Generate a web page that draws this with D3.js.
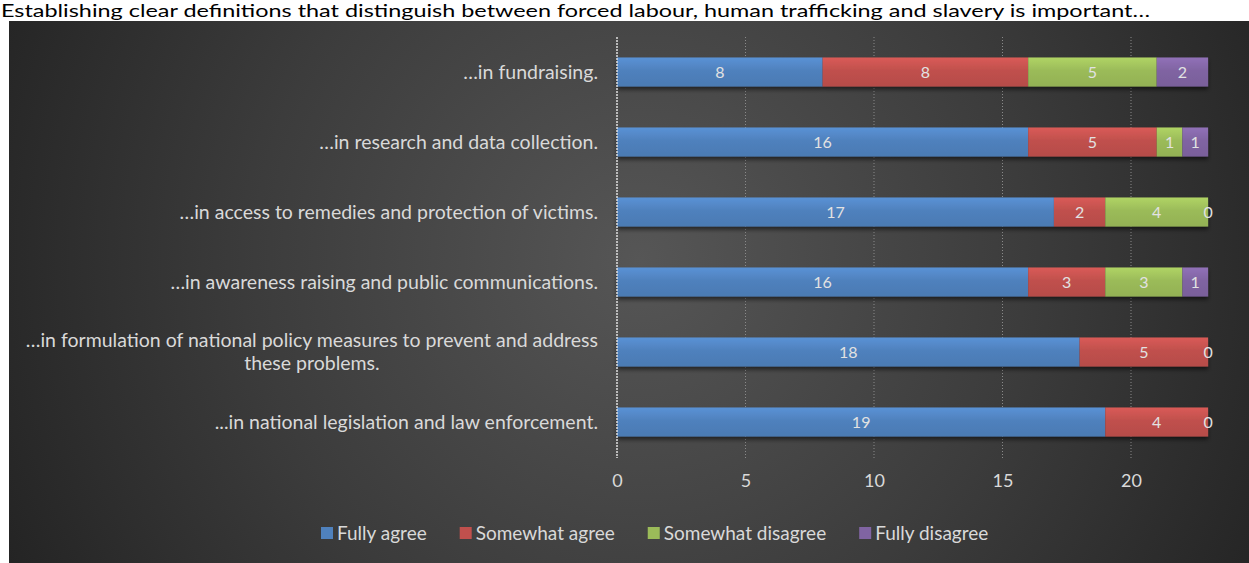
<!DOCTYPE html>
<html>
<head>
<meta charset="utf-8">
<script src="https://cdn.jsdelivr.net/npm/d3@7"></script>
<style>
  body { margin: 0; background: #fff; }
  svg { display: block; }
  text { font-family: Lato, "Open Sans", sans-serif; }
</style>
</head>
<body>
<div id="chart"></div>
<script>
// data
const categories = [
    "\u2026in fundraising.",
    "\u2026in research and data collection.",
    "\u2026in access to remedies and protection of victims.",
    "\u2026in awareness raising and public communications.",
    "\u2026in formulation of national policy measures to prevent and address|these problems.",
    "...in national legislation and law enforcement."
];
const seriesNames = ["Fully agree", "Somewhat agree", "Somewhat disagree", "Fully disagree"];
const fullyAgree = [8, 16, 17, 16, 18, 19];
const somewhatAgree = [8, 5, 2, 3, 5, 4];
const somewhatDisagree = [5, 1, 4, 3, 0, 0];
const fullyDisagree = [2, 1, 0, 1, 0, 0];
const xTicks = [0, 5, 10, 15, 20];
const colors = ["#4f81bd", "#c0504d", "#9bbb59", "#8064a2"];
const titleText = "Establishing clear definitions that distinguish between forced labour, human trafficking and slavery is important\u2026";

const W = 1249, H = 563;
const margin = {top: 37, left: 617, right: 41, bottom: 106};

let svg = d3.select("#chart").append("svg")
    .attr("width", W)
    .attr("height", H);

let defs = svg.append("defs");

// background gradient
let bg = defs.append("radialGradient")
    .attr("id", "bgGrad")
    .attr("gradientUnits", "userSpaceOnUse")
    .attr("cx", 640).attr("cy", 260).attr("r", 700);
bg.append("stop").attr("offset", "0%").attr("stop-color", "#565656");
bg.append("stop").attr("offset", "55%").attr("stop-color", "#3c3c3c");
bg.append("stop").attr("offset", "100%").attr("stop-color", "#242424");

colors.forEach((c, i) => {
    let g = defs.append("linearGradient")
        .attr("id", "barGrad" + i)
        .attr("x1", 0).attr("y1", 0).attr("x2", 0).attr("y2", 1);
    g.append("stop").attr("offset", "0%").attr("stop-color", d3.color(c).brighter(0.35));
    g.append("stop").attr("offset", "45%").attr("stop-color", c);
    g.append("stop").attr("offset", "100%").attr("stop-color", d3.color(c).darker(0.15));
});

let shadow = defs.append("filter").attr("id", "shadow")
    .attr("x", "-5%").attr("y", "-30%").attr("width", "110%").attr("height", "180%");
shadow.append("feDropShadow")
    .attr("dx", 0).attr("dy", 3).attr("stdDeviation", 2)
    .attr("flood-color", "#000").attr("flood-opacity", 0.55);

// title
svg.append("text")
    .attr("x", 1)
    .attr("y", 17)
    .attr("fill", "#000")
    .style("font-size", "18px")
    .attr("textLength", 1149)
    .attr("lengthAdjust", "spacingAndGlyphs")
    .text(titleText);

// panel
svg.append("rect")
    .attr("x", 9).attr("y", 21)
    .attr("width", W - 9).attr("height", H - 21)
    .attr("fill", "url(#bgGrad)");

let g = svg.append("g").attr("transform", `translate(${margin.left}, ${margin.top})`);

let x = d3.scaleLinear().domain([0, 23]).range([0, 23 * 25.7]);
let y = d3.scaleBand().domain(d3.range(categories.length)).range([0, 420]).paddingInner(0.585).paddingOuter(0.2925);

// gridlines
g.selectAll(".grid")
    .data(xTicks.filter(d => d > 0))
    .join("line")
    .attr("class", "grid")
    .attr("x1", d => x(d)).attr("x2", d => x(d))
    .attr("y1", 0).attr("y2", 421)
    .attr("stroke", "#8a8a8a")
    .attr("stroke-width", 1)
    .attr("stroke-dasharray", "1,2");

// x axis labels
let xAxis = d3.axisBottom(x).tickValues(xTicks).tickSize(0).tickPadding(0);
let xg = g.append("g").attr("transform", "translate(0, 421)").call(xAxis);
xg.select(".domain").remove();
xg.selectAll("text")
    .attr("y", 16)
    .attr("fill", "#d9d9d9")
    .style("font-size", "18px")
    .style("font-family", "Lato, sans-serif");

// stacked data
let series = [fullyAgree, somewhatAgree, somewhatDisagree, fullyDisagree];
let rows = categories.map((c, i) => ({i: i, v: series.map(s => s[i])}));
let stack = d3.stack().keys([0, 1, 2, 3]).value((d, k) => d.v[k]);
let stacked = stack(rows);

let barsG = g.append("g").attr("filter", "url(#shadow)");
stacked.forEach((layer, k) => {
    barsG.selectAll(".bar" + k)
        .data(layer)
        .join("rect")
        .attr("class", "bar" + k)
        .attr("x", d => x(d[0]))
        .attr("y", d => y(d.data.i))
        .attr("width", d => x(d[1]) - x(d[0]))
        .attr("height", y.bandwidth())
        .attr("fill", `url(#barGrad${k})`);
});

// value labels (zero labels at the same spot drawn once)
let seen = new Set();
stacked.forEach((layer, k) => {
    let labs = layer.filter(d => {
        let key = d.data.i + "_" + d[0] + "_" + d[1];
        if (seen.has(key)) return false;
        seen.add(key);
        return true;
    });
    g.selectAll(".lab" + k)
        .data(labs)
        .join("text")
        .attr("class", "lab" + k)
        .attr("x", d => x((d[0] + d[1]) / 2))
        .attr("y", d => y(d.data.i) + y.bandwidth() / 2)
        .attr("dy", "0.35em")
        .attr("text-anchor", "middle")
        .attr("fill", "#e2e2e2")
        .style("font-size", "16px")
        .text(d => d[1] - d[0]);
});

// zero axis line
g.append("line")
    .attr("x1", 0).attr("x2", 0)
    .attr("y1", 0).attr("y2", 421)
    .attr("stroke", "#e0e0e0")
    .attr("stroke-width", 1.5)
    .attr("stroke-dasharray", "2,1");

// category labels
categories.forEach((c, i) => {
    let lines = c.split("|");
    let t = svg.append("text")
        .attr("fill", "#d9d9d9")
        .style("font-size", "19.5px");
    let lh = 23;
    let cy = margin.top + y(i) + y.bandwidth() / 2 - (lines.length - 1) * lh / 2;
    lines.forEach((l, j) => {
        t.append("tspan").attr("y", cy + j * lh).attr("dy", "0.35em").text(l);
    });
    let widths = [];
    t.selectAll("tspan").each(function() { widths.push(this.getComputedTextLength()); });
    let maxW = d3.max(widths);
    let center = 598 - maxW / 2;
    t.selectAll("tspan")
        .attr("x", center)
        .attr("text-anchor", "middle");
});

// legend
let legend = svg.append("g").attr("transform", "translate(0, 533)");
let lx = 321;
seriesNames.forEach((name, k) => {
    legend.append("rect")
        .attr("x", lx).attr("y", -6)
        .attr("width", 12).attr("height", 12)
        .attr("fill", colors[k]);
    let t = legend.append("text")
        .attr("x", lx + 16)
        .attr("y", 0)
        .attr("dy", "0.35em")
        .attr("fill", "#d9d9d9")
        .style("font-size", "19px")
        .text(name);
    lx += 16 + t.node().getComputedTextLength() + 33;
});
</script>
</body>
</html>
